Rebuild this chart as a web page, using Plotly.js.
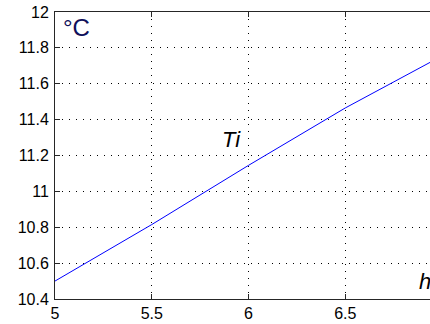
<!DOCTYPE html>
<html>
<head>
<meta charset="utf-8">
<script src="https://cdn.plot.ly/plotly-3.0.1.min.js"></script>
<style>
  html, body { margin: 0; padding: 0; overflow: hidden; background: #fff; }
  #chart { width: 430px; height: 324px; overflow: hidden; }
</style>
</head>
<body>
<div id="chart"></div>
<script>
// time in hours, inside temperature Ti in degC
var hours = [5, 5.5, 6, 6.5, 7]
var ti = [10.5, 10.815, 11.145, 11.465, 11.755]
var x_ticks = [5, 5.5, 6, 6.5, 7]
var y_ticks = [10.4, 10.6, 10.8, 11, 11.2, 11.4, 11.6, 11.8, 12]

var trace = {
    type: 'scatter',
    mode: 'lines',
    x: hours,
    y: ti,
    line: { color: '#0000ff', width: 1 },
    hoverinfo: 'skip'
}

var axis_style = {
    showline: true,
    linecolor: '#262626',
    linewidth: 1,
    mirror: 'ticks',
    ticks: 'inside',
    ticklen: 5,
    tickcolor: '#262626',
    showgrid: true,
    gridcolor: '#000000',
    gridwidth: 1,
    griddash: '1px,6px',
    zeroline: false,
    tickfont: { family: 'Liberation Sans, Arial, sans-serif', size: 16, color: '#000' }
}

var layout = {
    width: 445,
    height: 324,
    margin: { l: 55, r: 3, t: 12, b: 25 },
    paper_bgcolor: '#ffffff',
    plot_bgcolor: '#ffffff',
    showlegend: false,
    xaxis: Object.assign({}, axis_style, { range: [5, 7], tickvals: x_ticks, ticktext: ['5', '5.5', '6', '6.5', '7'] }),
    yaxis: Object.assign({}, axis_style, { range: [10.4, 12], tickvals: y_ticks, ticklabelstandoff: 2 }),
    annotations: [
        { text: '°C', xref: 'paper', yref: 'paper', x: 0.015, y: 1.0, xanchor: 'left', yanchor: 'top',
          showarrow: false, font: { family: 'Liberation Sans, Arial, sans-serif', size: 24, color: '#10105a' } },
        { text: '<i>Ti</i>', xref: 'x', yref: 'y', x: 5.91, y: 11.29, xanchor: 'center', yanchor: 'middle',
          showarrow: false, font: { family: 'Liberation Sans, Arial, sans-serif', size: 22, color: '#000' } },
        { text: '<i>h</i>', xref: 'x', yref: 'y', x: 6.87, y: 10.5, xanchor: 'left', yanchor: 'middle',
          showarrow: false, font: { family: 'Liberation Sans, Arial, sans-serif', size: 22, color: '#000' } }
    ]
}

var config = { staticPlot: true, displayModeBar: false }

Plotly.newPlot('chart', [trace], layout, config)
</script>
</body>
</html>
